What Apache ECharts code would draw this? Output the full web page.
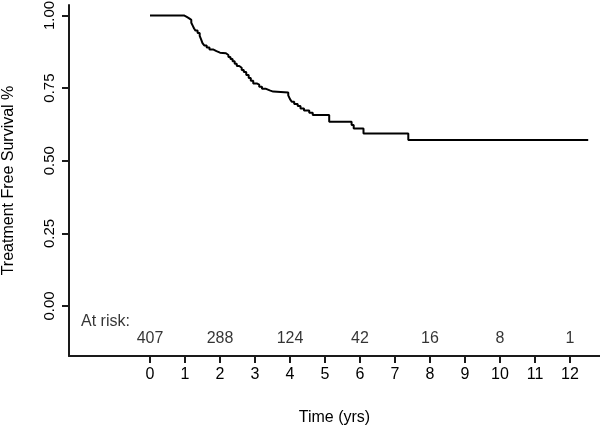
<!DOCTYPE html>
<html>
<head>
<meta charset="utf-8">
<script src="https://cdn.jsdelivr.net/npm/echarts@6/dist/echarts.min.js"></script>
<style>html,body{margin:0;padding:0;background:#fff;}#c{width:600px;height:426px;}</style>
</head>
<body>
<div id="c"></div>
<script>
// Kaplan-Meier curve: time (years) and survival proportion
var kmTime = [0, 0.97, 1.05, 1.12, 1.18, 1.22, 1.26, 1.30, 1.36, 1.42, 1.46, 1.50, 1.55, 1.62, 1.70, 1.80, 1.90, 2.00,
  2.17, 2.24, 2.30, 2.36, 2.42, 2.48, 2.55, 2.62, 2.68, 2.75, 2.82, 2.88, 2.95, 3.05, 3.12, 3.20, 3.30, 3.42, 3.52,
  3.95, 4.00, 4.05, 4.12, 4.22, 4.30, 4.40, 4.55, 4.65, 5.12, 5.76, 5.82, 6.10, 7.38, 12.52];
var kmSurv = [1.0, 0.995, 0.99, 0.985, 0.975, 0.965, 0.955, 0.948, 0.94, 0.93, 0.918, 0.905, 0.897, 0.89, 0.883, 0.877, 0.872, 0.870,
  0.864, 0.857, 0.850, 0.842, 0.834, 0.826, 0.820, 0.812, 0.805, 0.795, 0.785, 0.775, 0.766, 0.762, 0.755, 0.748, 0.742, 0.738, 0.735,
  0.725, 0.712, 0.703, 0.695, 0.688, 0.680, 0.673, 0.665, 0.657, 0.634, 0.623, 0.611, 0.594, 0.571, 0.571];
var xTicks = [0, 1, 2, 3, 4, 5, 6, 7, 8, 9, 10, 11, 12];
var yTicks = [0, 0.25, 0.5, 0.75, 1.0];
var atRiskTimes = [0, 2, 4, 6, 8, 10, 12];
var atRiskCounts = [407, 288, 124, 42, 16, 8, 1];
var atRiskLabel = 'At risk:';

var FONT = '"Liberation Sans", Arial, sans-serif';
var TXT = '#000';
var chart = echarts.init(document.getElementById('c'), null, {renderer: 'canvas'});
var kmData = kmTime.map(function (t, i) { return [t, kmSurv[i]]; });
var riskData = atRiskTimes.map(function (t, i) { return [t, -0.1136, atRiskCounts[i]]; });

chart.setOption({
  animation: false,
  backgroundColor: '#fff',
  grid: {left: 69, right: 0, top: 5, bottom: 70, containLabel: false, outerBoundsMode: 'none'},
  xAxis: {
    type: 'value', min: -2.314, max: 12.857,
    name: 'Time (yrs)', nameLocation: 'middle', nameGap: 54,
    nameTextStyle: {color: TXT, fontSize: 16, fontFamily: FONT},
    axisLine: {show: true, onZero: false, lineStyle: {color: '#1a1a1a', width: 2}},
    axisTick: {show: true, length: 7, lineStyle: {color: '#1a1a1a', width: 2}, customValues: xTicks},
    axisLabel: {color: TXT, fontSize: 16, fontFamily: FONT, margin: 11, customValues: xTicks},
    splitLine: {show: false}
  },
  yAxis: {
    type: 'value', min: -0.172, max: 1.036,
    name: 'Treatment Free Survival %', nameLocation: 'middle', nameGap: 52, nameRotate: 90,
    nameTextStyle: {color: TXT, fontSize: 16, fontFamily: FONT},
    axisLine: {show: true, onZero: false, lineStyle: {color: '#1a1a1a', width: 2}},
    axisTick: {show: true, length: 7, lineStyle: {color: '#1a1a1a', width: 2}, customValues: yTicks},
    axisLabel: {color: TXT, fontSize: 15, fontFamily: FONT, rotate: 90, margin: 12,
      customValues: yTicks, formatter: function (v) { return v.toFixed(2); }},
    splitLine: {show: false}
  },
  series: [
    {
      type: 'line', step: 'end', data: kmData, showSymbol: false, symbol: 'none',
      lineStyle: {color: '#000', width: 2}
    },
    {
      type: 'scatter', data: riskData, symbolSize: 0,
      label: {show: true, position: 'inside', color: TXT, fontSize: 16, fontFamily: FONT,
        formatter: function (p) { return String(p.data[2]); }}
    },
    {
      type: 'scatter', data: [[-1.97, -0.052]], symbolSize: 0,
      label: {show: true, position: 'inside', align: 'left', color: TXT, fontSize: 16, fontFamily: FONT,
        formatter: function () { return atRiskLabel; }}
    }
  ]
});
</script>
</body>
</html>
